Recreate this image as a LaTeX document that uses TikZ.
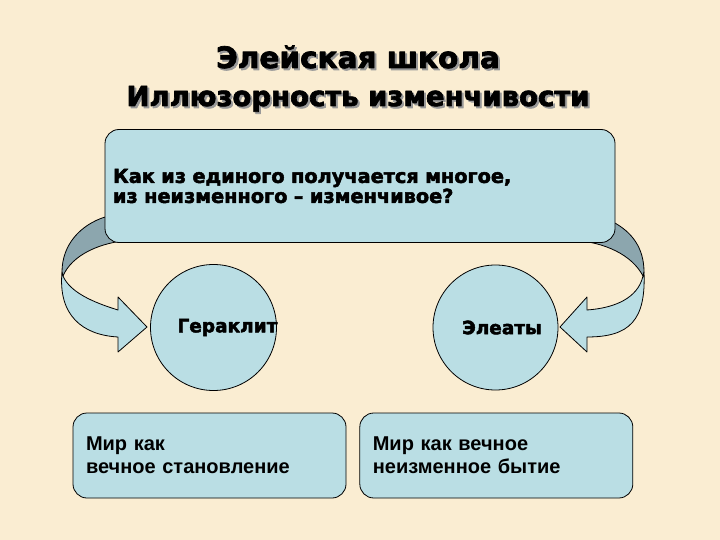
\documentclass[tikz,border=0pt]{standalone}
\usepackage{fontspec}
\setmainfont{Liberation Sans}
\newfontface\heavyfont{DejaVu Sans Bold}[RawFeature={embolden=2.5}]
\usepackage{tikz}
\usetikzlibrary{positioning}
\definecolor{parchment}{RGB}{250,237,210}
\definecolor{paleblue}{RGB}{186,222,228}
\definecolor{bandgray}{RGB}{140,166,174}
\newcommand{\shadowed}[1]{\makebox[0pt][l]{\hspace{2pt}\raisebox{-2pt}{\textcolor{black!40}{#1}}}#1}

\begin{document}
\begin{tikzpicture}[x=1pt,y=-1pt,line join=round]
    \tikzstyle{panel}=[draw=black, fill=paleblue, rounded corners=14pt, line width=0.8pt, align=left]
    \tikzstyle{disc}=[circle, draw=black, fill=paleblue, line width=0.8pt, inner sep=0pt]
    \tikzstyle{band}=[draw=black, line width=0.8pt]
    \tikzstyle{title}=[anchor=base, font=\heavyfont\fontsize{27.5}{30}\selectfont]

    \fill[parchment] (0,0) rectangle (720,540);
    \useasboundingbox (0,0) rectangle (720,540);

    % Title
    \node[title, font=\heavyfont\fontsize{29.5}{32}\selectfont] (school) at (358,68) {\shadowed{Элейская школа}};
    \node[title] (illusion) at (358,106) {\shadowed{Иллюзорность изменчивости}};

    % ribbons, their ends go under the box
    \filldraw[band, fill=bandgray] (125,228) -- (105,217) .. controls (80,225) and (62,245) .. (62,272)
        -- (63,276) .. controls (72,255) and (100,242) .. (132,240) -- cycle;
    \filldraw[band, fill=paleblue] (62,272) .. controls (58,315) and (82,335) .. (118,337)
        -- (118,352) -- (147,327) -- (118,297) -- (118,310)
        .. controls (92,302) and (70,292) .. (63,276) -- cycle;

    \filldraw[band, fill=bandgray] (590,228) -- (613,222) .. controls (632,232) and (644,248) .. (644,272)
        -- (643,276) .. controls (632,255) and (605,242) .. (572,240) -- cycle;
    \filldraw[band, fill=paleblue] (644,272) .. controls (646,320) and (630,337) .. (587,337)
        -- (587,352) -- (560,327) -- (587,297) -- (587,310)
        .. controls (615,308) and (638,298) .. (643,276) -- cycle;

    % Question
    \node[panel, minimum width=510pt, minimum height=113pt, inner xsep=8pt, text width=494pt,
          font=\heavyfont\fontsize{19.3}{20}\selectfont] (question) at (360,186)
        {Как из единого получается многое,\\из неизменного – изменчивое?};

    % Two schools
    \node[disc, minimum size=126pt,
          label={[xshift=14pt, font=\heavyfont\fontsize{18.5}{20}\selectfont]center:Гераклит}] (herakl) at (213.5,327.5) {};
    \node[disc, minimum size=125pt,
          label={[xshift=6.5pt, font=\heavyfont\fontsize{18.5}{20}\selectfont]center:Элеаты}] (elea) at (495.5,327.5) {};

    \node[panel, minimum width=273pt, minimum height=85pt, inner xsep=13pt, text width=247pt,
          font=\bfseries\fontsize{20}{23}\selectfont] (becoming) at (209.5,455.5)
        {Мир как\\вечное становление};
    \node[panel, minimum width=273pt, minimum height=85pt, inner xsep=13pt, text width=247pt,
          font=\bfseries\fontsize{20}{23}\selectfont, right=13pt of becoming] (being)
        {Мир как вечное\\неизменное бытие};
\end{tikzpicture}
\end{document}
